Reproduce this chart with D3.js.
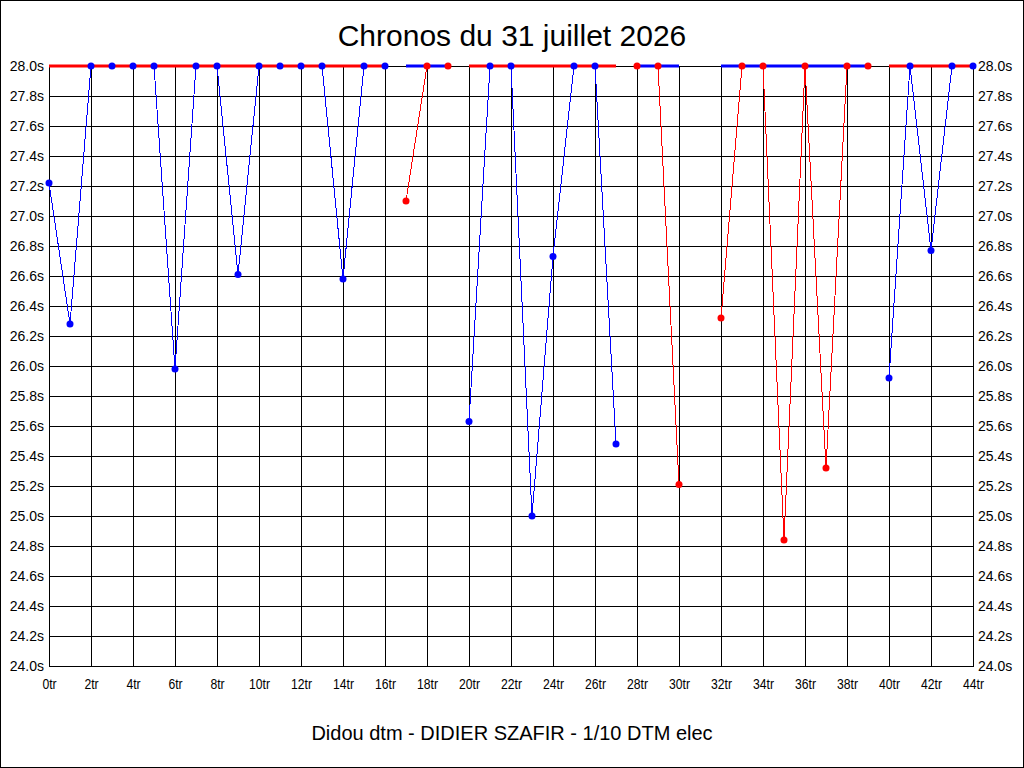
<!DOCTYPE html>
<html>
<head>
<meta charset="utf-8">
<script src="https://cdn.jsdelivr.net/npm/d3@7"></script>
<style>
  body { margin: 0; background: #fff; }
  svg { display: block; }
</style>
</head>
<body>
<div id="chart"></div>
<script>
// temps au tour (s), une liste par manche ; 28.0 = hors echelle (tronque en haut)
const heatNames = ["M1", "M2", "M3", "M4", "M5", "M6"];
const heatGroups = ["A", "B", "A", "B", "B", "A"];
const heatFirstLap = [0, 17, 20, 28, 32, 40];
const heat1 = [27.22, 26.28, 28.0, 28.0, 28.0, 28.0, 25.98, 28.0, 28.0, 26.61, 28.0, 28.0, 28.0, 28.0, 26.58, 28.0, 28.0];
const heat2 = [27.10, 28.0, 28.0];
const heat3 = [25.63, 28.0, 28.0, 25.00, 26.73, 28.0, 28.0, 25.48];
const heat4 = [28.0, 28.0, 25.21];
const heat5 = [26.32, 28.0, 28.0, 24.84, 28.0, 25.32, 28.0, 28.0];
const heat6 = [25.92, 28.0, 26.77, 28.0, 28.0];
const heatValues = [heat1, heat2, heat3, heat4, heat5, heat6];

const lapTicks = d3.range(0, 45, 2);
const timeTicks = d3.range(0, 21).map(i => 24 + i * 0.2);

const title = "Chronos du 31 juillet 2026";
const footer = "Didou dtm - DIDIER SZAFIR - 1/10 DTM elec";

const width = 1024, height = 768
const margin = { top: 66, right: 51, bottom: 102, left: 49 }
const innerW = width - margin.left - margin.right, innerH = height - margin.top - margin.bottom

const heats = heatNames.map((name, i) => ({
    name: name,
    group: heatGroups[i],
    points: heatValues[i].map((t, j) => ({ lap: heatFirstLap[i] + j, t: t }))
}))

var x = d3.scaleLinear().domain([0, 44]).range([0, innerW])
var y = d3.scaleLinear().domain([24, 28]).range([innerH, 0]).clamp(true)
// couleur de la manche, et couleur opposee pour le trait du haut
var lineColor = d3.scaleOrdinal().domain(["A", "B"]).range(["#0000ff", "#ff0000"])
var topColor = d3.scaleOrdinal().domain(["A", "B"]).range(["#ff0000", "#0000ff"])

var svg = d3.select("#chart")
    .append("svg")
    .attr("width", width)
    .attr("height", height)

svg.append("rect")
    .attr("x", 0.5).attr("y", 0.5)
    .attr("width", width - 1).attr("height", height - 1)
    .attr("fill", "#fff").attr("stroke", "#000")

svg.append("text")
    .attr("x", width / 2)
    .attr("y", 46)
    .attr("text-anchor", "middle")
    .attr("font-family", "Liberation Sans, Arial, sans-serif")
    .attr("font-size", 30)
    .text(title)

svg.append("text")
    .attr("x", width / 2)
    .attr("y", 740)
    .attr("text-anchor", "middle")
    .attr("font-family", "Liberation Sans, Arial, sans-serif")
    .attr("font-size", 20)
    .text(footer)

var g = svg.append("g")
    .attr("transform", "translate(" + margin.left + "," + margin.top + ")")

var xAxis = d3.axisBottom(x)
    .tickValues(lapTicks)
    .tickSizeInner(-innerH)
    .tickSizeOuter(0)
    .tickPadding(13)
    .tickFormat(d => d + "tr")

var yAxisLeft = d3.axisLeft(y)
    .tickValues(timeTicks)
    .tickSizeInner(-innerW)
    .tickSizeOuter(0)
    .tickPadding(5)
    .tickFormat(d => d.toFixed(1) + "s")

var yAxisRight = d3.axisRight(y)
    .tickValues(timeTicks)
    .tickSize(0)
    .tickPadding(5)
    .tickFormat(d => d.toFixed(1) + "s")

g.append("g")
    .attr("class", "axis")
    .attr("transform", "translate(0," + innerH + ")")
    .call(xAxis)

g.append("g")
    .attr("class", "axis")
    .call(yAxisLeft)

g.append("g")
    .attr("class", "axis")
    .attr("transform", "translate(" + innerW + ",0)")
    .call(yAxisRight)

g.selectAll(".axis")
    .attr("font-family", "Liberation Sans, Arial, sans-serif")
    .attr("font-size", 14)
g.selectAll(".axis line, .axis path")
    .attr("stroke", "#000")
    .attr("shape-rendering", "crispEdges")
g.selectAll(".axis text").attr("fill", "#000")
// libelles des tours un peu plus serres
g.selectAll(".axis").filter((d, i) => i === 0)
    .selectAll("text").attr("transform", "scale(0.87,1)")

var line = d3.line()
    .x(d => x(d.lap))
    .y(d => y(d.t))

var heatG = g.selectAll(".heat")
    .data(heats)
    .enter().append("g")
    .attr("class", "heat")

heatG.append("path")
    .attr("d", d => line(d.points))
    .attr("fill", "none")
    .attr("stroke", d => lineColor(d.group))
    .attr("stroke-width", 1)
    .attr("shape-rendering", "crispEdges")

heatG.append("path")
    .attr("d", d => {
        const first = d.points[0].lap, last = d.points[d.points.length - 1].lap
        return line([{ lap: first, t: y.domain()[1] }, { lap: last, t: y.domain()[1] }])
    })
    .attr("fill", "none")
    .attr("stroke", d => topColor(d.group))
    .attr("stroke-width", 3)

heatG.selectAll("circle")
    .data(d => d.points.map(p => ({ lap: p.lap, t: p.t, group: d.group })))
    .enter().append("circle")
    .attr("cx", d => x(d.lap))
    .attr("cy", d => y(d.t))
    .attr("r", 3.5)
    .attr("fill", d => lineColor(d.group))
</script>
</body>
</html>
